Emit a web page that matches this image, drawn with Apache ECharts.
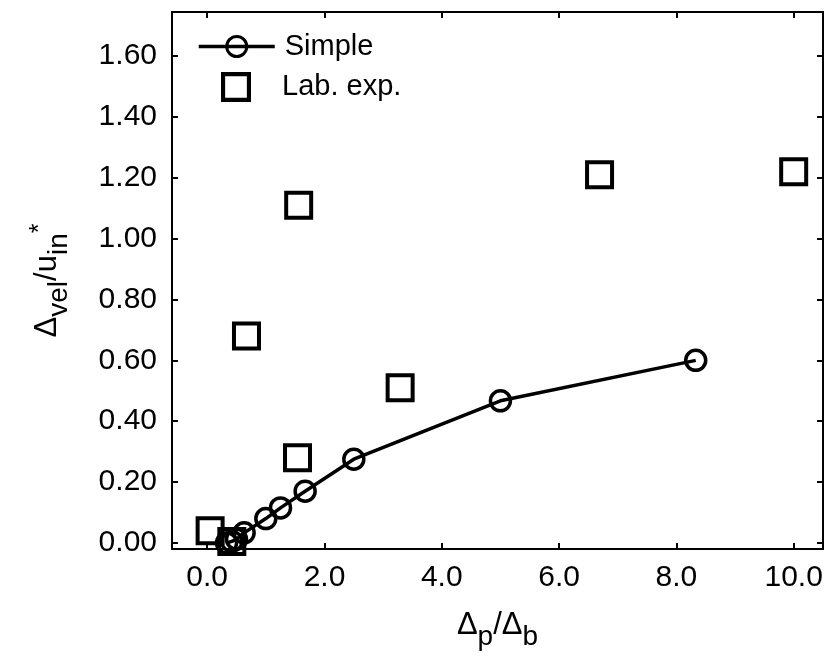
<!DOCTYPE html>
<html><head><meta charset="utf-8">
<script src="https://cdn.jsdelivr.net/npm/echarts@6/dist/echarts.min.js"></script>
<style>html,body{margin:0;padding:0;background:#fff}#c{width:830px;height:656px}</style>
</head><body><div id="c"></div>
<script>
const simpleX = [0.33, 0.42, 0.5, 0.63, 1.0, 1.25, 1.67, 2.5, 5.0, 8.33];
const simpleY = [0.0, 0.005, 0.012, 0.033, 0.08, 0.115, 0.17, 0.275, 0.467, 0.60];
const labX = [0.05, 0.42, 0.67, 1.54, 1.56, 3.29, 6.69, 10.0];
const labY = [0.04, 0.005, 0.68, 0.28, 1.11, 0.51, 1.21, 1.22];
const xTicks = [0, 2, 4, 6, 8, 10];
const yTicks = [0, 0.2, 0.4, 0.6, 0.8, 1.0, 1.2, 1.4, 1.6];

const FONT = 'Liberation Sans, Arial, Helvetica, sans-serif';
const chart = echarts.init(document.getElementById('c'), null, {renderer: 'canvas'});

const lineBlack = {color: '#000', width: 2};
function axisCommon(extra) {
  return Object.assign({
    type: 'value',
    axisLine: {show: true, onZero: false, lineStyle: lineBlack},
    splitLine: {show: false}
  }, extra);
}
const subRich = {
  m: {fontSize: 31, fontFamily: FONT, color: '#000', verticalAlign: 'top', lineHeight: 32},
  s: {fontSize: 28, fontFamily: FONT, color: '#000', verticalAlign: 'top', lineHeight: 28, padding: [13, 0, 0, 0]},
  p: {fontSize: 25, fontFamily: FONT, color: '#000', verticalAlign: 'top', lineHeight: 25, padding: [-4, 0, 0, 0]}
};

const option = {
  backgroundColor: '#fff',
  animation: false,
  grid: {left: 172, right: 7, top: 12, bottom: 107, containLabel: false},
  xAxis: [
    axisCommon({
      position: 'bottom', min: -0.6, max: 10.5,
      axisTick: {show: true, inside: true, length: 6, customValues: xTicks, lineStyle: lineBlack},
      axisLabel: {show: true, customValues: xTicks, margin: 14, fontSize: 30, fontFamily: FONT, color: '#000',
        formatter: v => Number(v).toFixed(1)},
      name: '{m|Δ}{s|p}{m|/Δ}{s|b}', nameLocation: 'middle', nameGap: 61,
      nameTextStyle: {rich: subRich}
    }),
    axisCommon({
      position: 'top', min: -0.6, max: 10.5,
      axisTick: {show: true, inside: true, length: 6, customValues: xTicks, lineStyle: lineBlack},
      axisLabel: {show: false}
    })
  ],
  yAxis: [
    axisCommon({
      position: 'left', min: -0.02, max: 1.745,
      axisTick: {show: true, inside: true, length: 6, customValues: yTicks, lineStyle: lineBlack},
      axisLabel: {show: true, customValues: yTicks, margin: 15, fontSize: 30, fontFamily: FONT, color: '#000',
        formatter: v => Number(v).toFixed(2)},
      name: '{m|Δ}{s|vel}{m|/u}{s|in}{p|*}', nameLocation: 'middle', nameGap: 108, nameRotate: 90,
      nameTextStyle: {rich: subRich}
    }),
    axisCommon({
      position: 'right', min: -0.02, max: 1.745,
      axisTick: {show: true, inside: true, length: 6, customValues: yTicks, lineStyle: lineBlack},
      axisLabel: {show: false}
    })
  ],
  legend: [
    {
      data: ['Simple'], left: 197, top: 32, padding: 0,
      itemWidth: 76, itemHeight: 25, itemGap: 0,
      lineStyle: {color: '#000', width: 3.5},
      itemStyle: {color: 'rgba(255,255,255,0)', borderColor: '#000', borderWidth: 3},
      textStyle: {fontSize: 29, fontFamily: FONT, color: '#000', padding: [0, 0, 0, 5]}
    },
    {
      data: [{name: 'Lab. exp.', icon: 'path://M0,0L29,0L29,29L0,29Z M4,4L4,25L25,25L25,4Z', itemStyle: {color: '#000', borderWidth: 0}}],
      left: 221, top: 72, padding: 0,
      itemWidth: 30, itemHeight: 30, itemGap: 0,
      textStyle: {fontSize: 29, fontFamily: FONT, color: '#000', padding: [0, 0, 0, 26]}
    }
  ],
  series: [
    {
      name: 'Simple', type: 'line', xAxisIndex: 0, yAxisIndex: 0,
      data: simpleX.map((x, i) => [x, simpleY[i]]),
      symbol: 'circle', symbolSize: 20, showSymbol: true,
      lineStyle: {color: '#000', width: 3.5},
      itemStyle: {color: 'rgba(255,255,255,0)', borderColor: '#000', borderWidth: 3.5},
      z: 2
    },
    {
      name: 'Lab. exp.', type: 'scatter', xAxisIndex: 0, yAxisIndex: 0,
      data: labX.map((x, i) => [x, labY[i]]),
      symbol: 'rect', symbolSize: 25,
      itemStyle: {color: 'rgba(255,255,255,0)', borderColor: '#000', borderWidth: 4, opacity: 1},
      z: 3
    }
  ]
};
chart.setOption(option);
</script></body></html>
